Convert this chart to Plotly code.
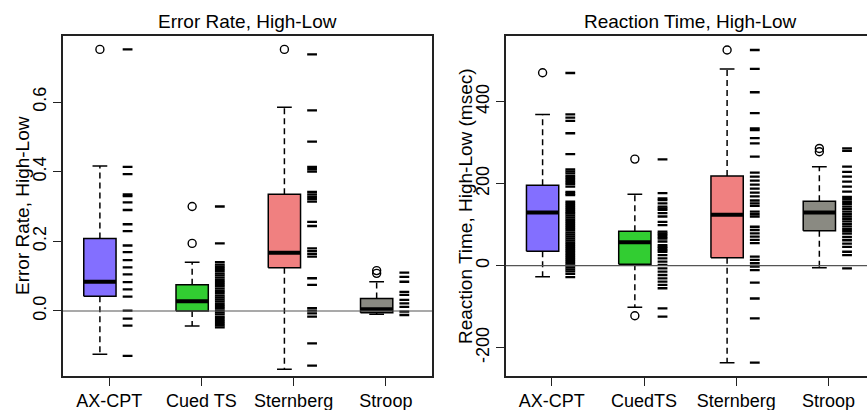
import plotly.graph_objects as go

# ---------------- data ----------------
cats_left = ["AX-CPT", "Cued TS", "Sternberg", "Stroop"]
cats_right = ["AX-CPT", "CuedTS", "Sternberg", "Stroop"]
box_colors = ["#836FFF", "#32CD32", "#F08080", "#8A8A82"]

# Error rate (High-Low) box statistics
err_q1 = [0.042, 0.000, 0.124, -0.005]
err_med = [0.084, 0.028, 0.167, 0.005]
err_q3 = [0.208, 0.0755, 0.335, 0.036]
err_lo = [-0.124, -0.043, -0.167, -0.0095]
err_hi = [0.416, 0.140, 0.585, 0.084]
err_out_axcpt = [0.751]
err_out_cued = [0.300, 0.194]
err_out_stern = [0.751]
err_out_stroop = [0.116, 0.108]

# Error rate individual values (strip)
err_pts_axcpt = [0.751, 0.414, 0.393, 0.335, 0.330, 0.312, 0.290, 0.249, 0.229,
                 0.188, 0.169, 0.146, 0.125, 0.105, 0.083, 0.062, 0.041, 0.001,
                 -0.022, -0.042, -0.129]
err_pts_cued = [0.300, 0.194, 0.140, 0.133, 0.127, 0.121, 0.115, 0.108, 0.102,
                0.096, 0.089, 0.083, 0.077, 0.071, 0.064, 0.058, 0.052, 0.045,
                0.039, 0.033, 0.027, 0.020, 0.014, 0.008, 0.002, -0.004, -0.010,
                -0.017, -0.023, -0.029, -0.035, -0.041, -0.047]
err_pts_stern = [0.737, 0.576, 0.486, 0.414, 0.407, 0.400, 0.342, 0.335, 0.328,
                 0.321, 0.314, 0.256, 0.244, 0.180, 0.172, 0.164, 0.156, 0.094,
                 0.075, 0.008, 0.001, -0.007, -0.016, -0.093, -0.157]
err_pts_stroop = [0.110, 0.098, 0.084, 0.055, 0.046, 0.032, 0.022, 0.012,
                  -0.002, -0.0115]

# Reaction time (High-Low, msec) box statistics
rt_q1 = [35, 3.4, 19.5, 85.4]
rt_med = [130, 57, 124, 130]
rt_q3 = [196, 84, 219, 157]
rt_lo = [-27, -101.5, -236.6, -4.9]
rt_hi = [369, 174, 480, 241.5]
rt_out_axcpt = [470.7]
rt_out_cued = [260, -122]
rt_out_stern = [526]
rt_out_stroop = [286, 278]

# Reaction time individual values (strip)
rt_pts_axcpt = [470, 369, 361, 353, 323, 272, 235, 230, 225, 219, 214, 209, 204,
                199, 193, 180, 176, 172, 156, 151, 146, 141, 136, 131, 127, 122,
                117, 112, 107, 102, 97, 92, 87, 81, 76, 71, 66, 61, 56, 51, 46,
                41, 36, 31, 26, 21, 16, 11, 6, 1, -4, -9, -14, -20, -28]
rt_pts_cued = [259.5, 177, 164, 160, 152, 144, 140, 136, 128, 120, 107, 99, 83,
               79, 75, 70, 66, 59, 50, 46, 42, 38, 34, 26, 18, 10, 2, -6.5, -14.6,
               -22.7, -31, -39, -47, -55, -104, -124]
rt_pts_stern = [526, 480, 423, 372, 335, 331, 311, 298.5, 266, 227, 217, 207.5,
                197.7, 188, 178, 169, 159, 152, 146, 132, 126, 120, 95, 87, 79, 71,
                63, 55, 22, 14, 6, -2.5, -10.6, -41.4, -80, -128.5, -236.6]
rt_pts_stroop = [286, 280, 241.5, 229, 217, 205, 193, 180.5, 168, 162, 156, 150,
                 144, 138, 132, 126, 120, 114, 108, 102, 96, 90, 84, 78, 70, 62,
                 54, 46, 34, 26, -6.5]

err_ticks = [0.0, 0.2, 0.4, 0.6]
err_ticktext = ["0.0", "0.2", "0.4", "0.6"]
rt_ticks = [-200, 0, 200, 400]
rt_ticktext = ["-200", "0", "200", "400"]

# ---------------- style ----------------
BOX_OFF = -0.1
STRIP_OFF = 0.2
BW = 0.175
SW = 0.08
FONT = "Liberation Sans, Arial, sans-serif"
W, H = 867, 410

fig = go.Figure()


def add_panel(xa, ya, q1, med, q3, lo, hi, outs, pts):
    for i in range(4):
        c = i + 1 + BOX_OFF
        s = i + 1 + STRIP_OFF
        # whiskers (dashed)
        fig.add_trace(go.Scatter(x=[c, c, None, c, c], y=[q3[i], hi[i], None, q1[i], lo[i]],
                                 mode="lines", line=dict(color="black", width=1.5, dash="6px,4px"),
                                 xaxis=xa, yaxis=ya, hoverinfo="skip"))
        # staples
        fig.add_trace(go.Scatter(x=[c - SW, c + SW, None, c - SW, c + SW],
                                 y=[hi[i], hi[i], None, lo[i], lo[i]],
                                 mode="lines", line=dict(color="black", width=1.5),
                                 xaxis=xa, yaxis=ya, hoverinfo="skip"))
        # box
        fig.add_trace(go.Scatter(x=[c - BW, c + BW, c + BW, c - BW, c - BW],
                                 y=[q1[i], q1[i], q3[i], q3[i], q1[i]],
                                 mode="lines", fill="toself", fillcolor=box_colors[i],
                                 line=dict(color="black", width=1.5),
                                 xaxis=xa, yaxis=ya, hoverinfo="skip"))
        # median
        fig.add_trace(go.Scatter(x=[c - BW, c + BW], y=[med[i], med[i]],
                                 mode="lines", line=dict(color="black", width=4),
                                 xaxis=xa, yaxis=ya, hoverinfo="skip"))
        # outliers
        fig.add_trace(go.Scatter(x=[c] * len(outs[i]), y=outs[i], mode="markers",
                                 marker=dict(symbol="circle-open", size=8, color="black",
                                             line=dict(width=1.4, color="black")),
                                 xaxis=xa, yaxis=ya, hoverinfo="skip"))
        # strip of individual values
        fig.add_trace(go.Scatter(x=[s] * len(pts[i]), y=pts[i], mode="markers",
                                 marker=dict(symbol="line-ew", size=7, color="black",
                                             line=dict(width=2.3, color="black")),
                                 xaxis=xa, yaxis=ya, hoverinfo="skip"))


add_panel("x", "y", err_q1, err_med, err_q3, err_lo, err_hi,
          [err_out_axcpt, err_out_cued, err_out_stern, err_out_stroop],
          [err_pts_axcpt, err_pts_cued, err_pts_stern, err_pts_stroop])
add_panel("x2", "y2", rt_q1, rt_med, rt_q3, rt_lo, rt_hi,
          [rt_out_axcpt, rt_out_cued, rt_out_stern, rt_out_stroop],
          [rt_pts_axcpt, rt_pts_cued, rt_pts_stern, rt_pts_stroop])

# zero reference lines
for xr, yr in (("x", "y"), ("x2", "y2")):
    fig.add_shape(type="line", xref=f"{xr} domain", yref=yr, x0=0, x1=1, y0=0, y1=0,
                  line=dict(color="#555555", width=1.2), layer="above")

ydom = [1 - 375.7 / H, 1 - 36 / H]
axis_common = dict(showgrid=False, zeroline=False, showline=True, linecolor="#222222",
                   linewidth=1.6, ticks="outside", ticklen=8, tickwidth=1.3,
                   tickcolor="#222222", tickfont=dict(family=FONT, size=18, color="black"),
                   fixedrange=True)

fig.update_layout(
    width=W, height=H, margin=dict(l=0, r=0, t=0, b=0),
    paper_bgcolor="white", plot_bgcolor="white", showlegend=False,
    font=dict(family=FONT, color="black"),
    xaxis=dict(domain=[63 / W, 432 / W], range=[0.5, 4.5], tickvals=[1, 2, 3, 4],
               ticktext=cats_left, anchor="y", mirror=True, **axis_common),
    yaxis=dict(domain=ydom, range=[-0.1858, 0.7895], tickvals=err_ticks,
               ticktext=err_ticktext, tickangle=-90, anchor="x", mirror=True, **axis_common),
    xaxis2=dict(domain=[505.7 / W, 1.0], range=[0.5, 4.4165], tickvals=[1, 2, 3, 4],
                ticktext=cats_right, anchor="y2", mirror=True, **axis_common),
    yaxis2=dict(domain=ydom, range=[-268.3, 560.2], tickvals=rt_ticks,
                ticktext=rt_ticktext, tickangle=-90, anchor="x2", mirror=False, **axis_common),
)

ann_font = dict(family=FONT, size=19, color="black")
fig.add_annotation(text="Error Rate, High-Low", xref="paper", yref="paper",
                   x=247.5 / W, y=1 - 21.5 / H, xanchor="center", yanchor="middle",
                   showarrow=False, font=ann_font)
fig.add_annotation(text="Reaction Time, High-Low", xref="paper", yref="paper",
                   x=690.5 / W, y=1 - 21.5 / H, xanchor="center", yanchor="middle",
                   showarrow=False, font=ann_font)
fig.add_annotation(text="Error Rate, High-Low", xref="paper", yref="paper",
                   x=22 / W, y=1 - 206 / H, xanchor="center", yanchor="middle",
                   textangle=-90, showarrow=False, font=ann_font)
fig.add_annotation(text="Reaction Time, High-Low (msec)", xref="paper", yref="paper",
                   x=465 / W, y=1 - 206 / H, xanchor="center", yanchor="middle",
                   textangle=-90, showarrow=False, font=ann_font)

fig.write_html("out.html")
